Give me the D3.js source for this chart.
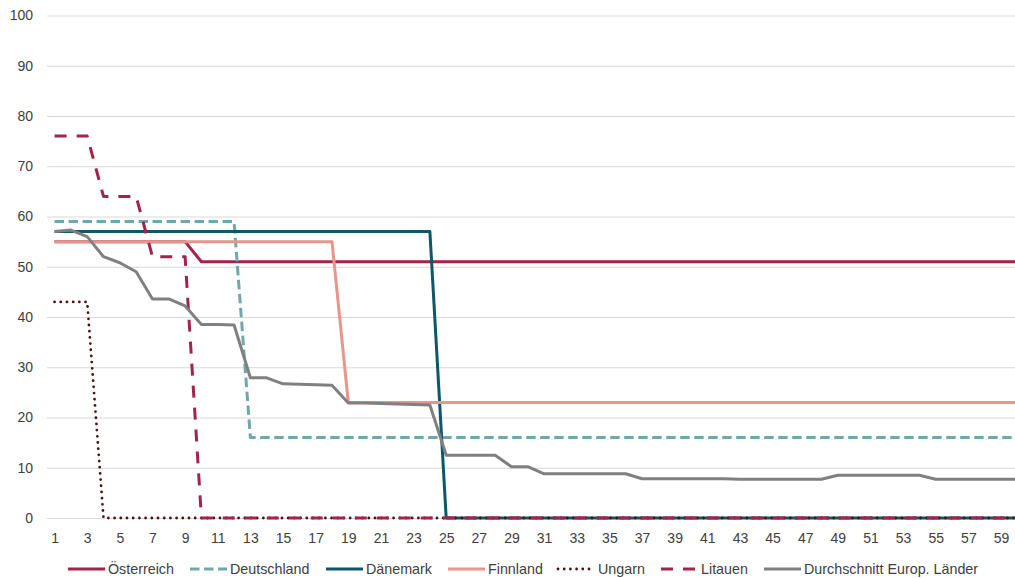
<!DOCTYPE html>
<html>
<head>
<meta charset="utf-8">
<script src="https://cdn.jsdelivr.net/npm/d3@7"></script>
<style>
  html, body { margin: 0; padding: 0; background: #fff; overflow: hidden; }
</style>
</head>
<body>
<div id="chart"></div>
<script>
// Categories 1..60
const periods = d3.range(1, 61);
const xTickValues = d3.range(1, 60, 2);
const yTickValues = [0, 10, 20, 30, 40, 50, 60, 70, 80, 90, 100];

const seriesNames = ["Österreich", "Deutschland", "Dänemark", "Finnland", "Ungarn", "Litauen", "Durchschnitt Europ. Länder"];

const oesterreich = [55, 55, 55, 55, 55, 55, 55, 55, 55, 51, 51, 51, 51, 51, 51, 51, 51, 51, 51, 51,
  51, 51, 51, 51, 51, 51, 51, 51, 51, 51, 51, 51, 51, 51, 51, 51, 51, 51, 51, 51,
  51, 51, 51, 51, 51, 51, 51, 51, 51, 51, 51, 51, 51, 51, 51, 51, 51, 51, 51, 51];
const deutschland = [59, 59, 59, 59, 59, 59, 59, 59, 59, 59, 59, 59, 16, 16, 16, 16, 16, 16, 16, 16,
  16, 16, 16, 16, 16, 16, 16, 16, 16, 16, 16, 16, 16, 16, 16, 16, 16, 16, 16, 16,
  16, 16, 16, 16, 16, 16, 16, 16, 16, 16, 16, 16, 16, 16, 16, 16, 16, 16, 16, 16];
const daenemark = [57, 57, 57, 57, 57, 57, 57, 57, 57, 57, 57, 57, 57, 57, 57, 57, 57, 57, 57, 57,
  57, 57, 57, 57, 0, 0, 0, 0, 0, 0, 0, 0, 0, 0, 0, 0, 0, 0, 0, 0,
  0, 0, 0, 0, 0, 0, 0, 0, 0, 0, 0, 0, 0, 0, 0, 0, 0, 0, 0, 0];
const finnland = [55, 55, 55, 55, 55, 55, 55, 55, 55, 55, 55, 55, 55, 55, 55, 55, 55, 55, 23, 23,
  23, 23, 23, 23, 23, 23, 23, 23, 23, 23, 23, 23, 23, 23, 23, 23, 23, 23, 23, 23,
  23, 23, 23, 23, 23, 23, 23, 23, 23, 23, 23, 23, 23, 23, 23, 23, 23, 23, 23, 23];
const ungarn = [43, 43, 43, 0, 0, 0, 0, 0, 0, 0, 0, 0, 0, 0, 0, 0, 0, 0, 0, 0,
  0, 0, 0, 0, 0, 0, 0, 0, 0, 0, 0, 0, 0, 0, 0, 0, 0, 0, 0, 0,
  0, 0, 0, 0, 0, 0, 0, 0, 0, 0, 0, 0, 0, 0, 0, 0, 0, 0, 0, 0];
const litauen = [76, 76, 76, 64, 64, 64, 52, 52, 52, 0, 0, 0, 0, 0, 0, 0, 0, 0, 0, 0,
  0, 0, 0, 0, 0, 0, 0, 0, 0, 0, 0, 0, 0, 0, 0, 0, 0, 0, 0, 0,
  0, 0, 0, 0, 0, 0, 0, 0, 0, 0, 0, 0, 0, 0, 0, 0, 0, 0, 0, 0];
const durchschnitt = [57, 57.3, 56, 52, 50.8, 49, 43.6, 43.6, 42.2, 38.5, 38.5, 38.4, 27.9, 27.9, 26.7, 26.6, 26.5, 26.4, 22.9, 22.9,
  22.8, 22.7, 22.6, 22.5, 12.5, 12.5, 12.5, 12.5, 10.2, 10.2, 8.8, 8.8, 8.8, 8.8, 8.8, 8.8, 7.8, 7.8, 7.8, 7.8,
  7.8, 7.8, 7.7, 7.7, 7.7, 7.7, 7.7, 7.7, 8.5, 8.5, 8.5, 8.5, 8.5, 8.5, 7.7, 7.7, 7.7, 7.7, 7.7, 7.7];

const seriesValues = [oesterreich, deutschland, daenemark, finnland, ungarn, litauen, durchschnitt];

// Styling per series
const styles = [
  { color: "#a3234b", width: 3, dash: null, cap: "butt" },
  { color: "#6ea9aa", width: 3, dash: "9.5,4.5", cap: "butt" },
  { color: "#0c5868", width: 3, dash: null, cap: "butt" },
  { color: "#e8968a", width: 3, dash: null, cap: "butt" },
  { color: "#4e1212", width: 2.8, dash: "0,6.2", cap: "round" },
  { color: "#a3234b", width: 3, dash: "12,10", cap: "butt" },
  { color: "#808080", width: 3, dash: null, cap: "butt" }
];

const W = 1015, H = 578;
const font = "'Liberation Sans', Arial, sans-serif";

const svg = d3.select("#chart").append("svg")
  .attr("width", W)
  .attr("height", H)
  .style("display", "block");

const x = d3.scaleLinear().domain([0.5, 60.5]).range([46.4, 1025.5]);
const y = d3.scaleLinear().domain([0, 100]).range([518, 15.5]);

// Gridlines
svg.append("g")
  .attr("transform", "translate(47,0)")
  .call(d3.axisLeft(y).tickValues(yTickValues).tickSize(-(W - 47)).tickFormat(""))
  .call(g => g.select(".domain").remove())
  .selectAll("line")
  .attr("stroke", "#d9d9d9")
  .attr("stroke-width", 1);

// Y axis labels
svg.append("g")
  .attr("transform", "translate(47,0)")
  .call(d3.axisLeft(y).tickValues(yTickValues).tickSize(0).tickPadding(14))
  .call(g => g.select(".domain").remove())
  .selectAll("text")
  .style("font-family", font)
  .style("font-size", "14px")
  .attr("fill", "#404040");

// X axis labels
svg.append("g")
  .attr("transform", `translate(0,${y(0)})`)
  .call(d3.axisBottom(x).tickValues(xTickValues).tickSize(0).tickPadding(15).tickFormat(d3.format("d")))
  .call(g => g.select(".domain").remove())
  .selectAll("text")
  .style("font-family", font)
  .style("font-size", "14px")
  .attr("fill", "#404040");

// Lines
const line = d3.line()
  .x((d, i) => x(periods[i]))
  .y(d => y(d));

seriesValues.forEach((vals, k) => {
  const s = styles[k];
  svg.append("path")
    .datum(vals)
    .attr("d", line)
    .attr("fill", "none")
    .attr("stroke", s.color)
    .attr("stroke-width", s.width)
    .attr("stroke-linecap", s.cap)
    .attr("stroke-linejoin", "round")
    .attr("stroke-dasharray", s.dash);
});

// Legend
const legendX = [68, 190, 326, 448, 558, 661, 764];
const legend = svg.append("g").attr("transform", "translate(0,569)");
seriesNames.forEach((name, k) => {
  const s = styles[k];
  legend.append("line")
    .attr("x1", legendX[k])
    .attr("x2", legendX[k] + 37)
    .attr("y1", 0)
    .attr("y2", 0)
    .attr("stroke", s.color)
    .attr("stroke-width", s.width)
    .attr("stroke-linecap", s.cap)
    .attr("stroke-dasharray", s.dash);
  legend.append("text")
    .attr("x", legendX[k] + 40)
    .attr("y", 0)
    .attr("dy", "0.35em")
    .style("font-family", font)
    .style("font-size", "14.3px")
    .attr("fill", "#404040")
    .text(name);
});
</script>
</body>
</html>
